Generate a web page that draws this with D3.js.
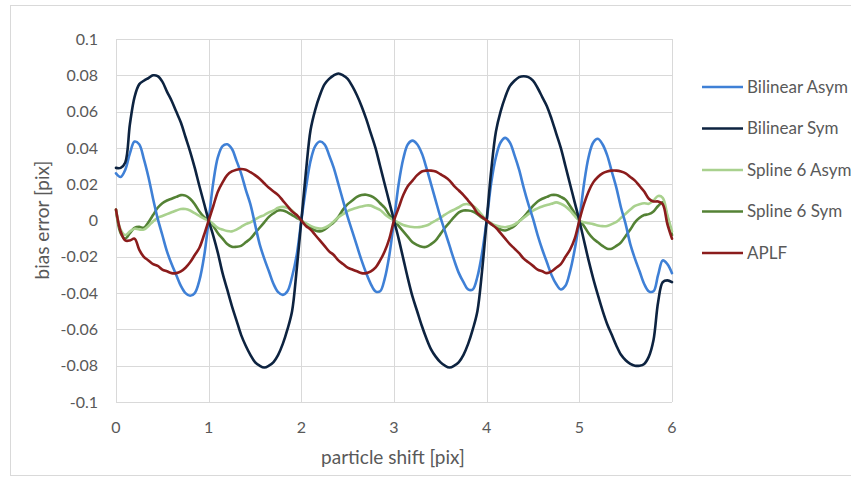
<!doctype html>
<html>
    <head>
        <meta charset="utf-8">
        <title>bias error vs particle shift</title>
        <script src="https://d3js.org/d3.v7.min.js"></script>
        <style type="text/css">
            body { margin: 0; background: #fff; }
            text { font-family: Lato, "Open Sans", sans-serif; fill: #595959; }
            .grid line { stroke: #d9d9d9; stroke-width: 1; }
        </style>
    </head>
    <body>
        <script>
        // sample positions, particle shift [pix], step 0.05
        var shift = d3.range(121).map(function(i) { return +(i * 0.05).toFixed(2); });

        var bilinearAsym = [
            0.026, 0.024, 0.028, 0.037, 0.0435, 0.042, 0.034, 0.024, 0.012, 0.001,
            -0.008, -0.017, -0.024, -0.030, -0.036, -0.040, -0.0415, -0.040, -0.033, -0.020,
            0.000, 0.021, 0.035, 0.041, 0.042, 0.0395, 0.033, 0.026, 0.017, 0.009,
            -0.002, -0.013, -0.021, -0.028, -0.035, -0.0395, -0.041, -0.039, -0.031, -0.019,
            0.000, 0.018, 0.033, 0.041, 0.0435, 0.042, 0.036, 0.029, 0.020, 0.011,
            0.002, -0.006, -0.014, -0.022, -0.029, -0.035, -0.039, -0.039, -0.032, -0.019,
            0.000, 0.020, 0.034, 0.042, 0.044, 0.042, 0.037, 0.029, 0.020, 0.011,
            0.002, -0.006, -0.014, -0.022, -0.029, -0.034, -0.038, -0.038, -0.031, -0.018,
            0.000, 0.021, 0.035, 0.043, 0.0455, 0.043, 0.036, 0.028, 0.018, 0.009,
            0.001, -0.008, -0.016, -0.023, -0.030, -0.035, -0.038, -0.036, -0.028, -0.016,
            0.000, 0.020, 0.035, 0.043, 0.045, 0.042, 0.036, 0.027, 0.018, 0.007,
            -0.002, -0.013, -0.021, -0.028, -0.035, -0.039, -0.039, -0.030, -0.022, -0.024,
            -0.029];

        var bilinearSym = [
            0.029, 0.029, 0.032, 0.053, 0.068, 0.075, 0.077, 0.0785, 0.080, 0.0795,
            0.0765, 0.071, 0.066, 0.060, 0.054, 0.046, 0.038, 0.029, 0.019, 0.0095,
            0.000, -0.0085, -0.018, -0.029, -0.038, -0.047, -0.055, -0.063, -0.069, -0.074,
            -0.078, -0.080, -0.081, -0.080, -0.078, -0.074, -0.068, -0.060, -0.050, -0.027,
            0.000, 0.027, 0.050, 0.061, 0.069, 0.075, 0.078, 0.080, 0.081, 0.080,
            0.078, 0.074, 0.069, 0.063, 0.056, 0.048, 0.040, 0.030, 0.020, 0.010,
            0.000, -0.010, -0.021, -0.032, -0.042, -0.050, -0.058, -0.065, -0.071, -0.075,
            -0.078, -0.080, -0.081, -0.080, -0.078, -0.074, -0.068, -0.060, -0.050, -0.028,
            0.000, 0.028, 0.049, 0.060, 0.068, 0.074, 0.077, 0.079, 0.0795, 0.079,
            0.077, 0.073, 0.068, 0.063, 0.056, 0.048, 0.040, 0.030, 0.020, 0.010,
            0.000, -0.011, -0.022, -0.032, -0.041, -0.0495, -0.057, -0.063, -0.069, -0.074,
            -0.077, -0.079, -0.080, -0.080, -0.079, -0.075, -0.066, -0.045, -0.034, -0.033,
            -0.034];

        var spline6Asym = [
            0.006, -0.005, -0.008, -0.006, -0.0045, -0.005, -0.005, -0.003, -0.0005, 0.0015,
            0.0025, 0.0035, 0.0045, 0.0055, 0.0063, 0.0063, 0.0055, 0.004, 0.0025, 0.001,
            0.000, -0.002, -0.004, -0.005, -0.0058, -0.006, -0.005, -0.0035, -0.002, -0.001,
            0.0005, 0.002, 0.003, 0.0045, 0.0055, 0.007, 0.0075, 0.007, 0.0055, 0.003,
            0.000, -0.0015, -0.003, -0.004, -0.0045, -0.004, -0.0027, -0.0005, 0.0018, 0.0035,
            0.0052, 0.0062, 0.007, 0.0077, 0.0083, 0.0082, 0.007, 0.0058, 0.0035, 0.0015,
            0.000, -0.0012, -0.0025, -0.0032, -0.0036, -0.0037, -0.0034, -0.0028, -0.0015, 0.000,
            0.0015, 0.0032, 0.0048, 0.006, 0.0073, 0.0088, 0.009, 0.008, 0.006, 0.003,
            0.000, -0.0015, -0.0028, -0.0034, -0.0037, -0.0032, -0.0022, -0.0005, 0.0015, 0.0035,
            0.0055, 0.0067, 0.0077, 0.0085, 0.0092, 0.010, 0.0092, 0.0078, 0.0055, 0.0025,
            0.000, -0.001, -0.0015, -0.002, -0.0027, -0.0031, -0.003, -0.002, -0.0008, 0.0015,
            0.0037, 0.006, 0.008, 0.009, 0.0095, 0.0092, 0.011, 0.0135, 0.0125, 0.003,
            -0.006];

        var spline6Sym = [
            0.006, -0.007, -0.010, -0.007, -0.004, -0.0035, -0.004, -0.001, 0.003, 0.007,
            0.0095, 0.011, 0.012, 0.013, 0.014, 0.0137, 0.012, 0.009, 0.005, 0.002,
            0.000, -0.003, -0.007, -0.010, -0.013, -0.0145, -0.0145, -0.014, -0.012, -0.010,
            -0.007, -0.004, -0.001, 0.002, 0.004, 0.0055, 0.0055, 0.0045, 0.003, 0.0015,
            0.000, -0.002, -0.004, -0.0055, -0.006, -0.005, -0.003, -0.001, 0.002, 0.006,
            0.009, 0.011, 0.013, 0.014, 0.0142, 0.0135, 0.012, 0.0095, 0.007, 0.003,
            0.000, -0.003, -0.006, -0.009, -0.012, -0.0135, -0.0145, -0.0145, -0.013, -0.011,
            -0.0075, -0.004, -0.001, 0.002, 0.0045, 0.0055, 0.0055, 0.005, 0.0035, 0.0015,
            0.000, -0.002, -0.0037, -0.005, -0.0055, -0.0045, -0.003, -0.0005, 0.002, 0.005,
            0.008, 0.0105, 0.012, 0.013, 0.014, 0.014, 0.013, 0.0115, 0.008, 0.004,
            0.000, -0.003, -0.007, -0.010, -0.012, -0.014, -0.0155, -0.0155, -0.014, -0.012,
            -0.0085, -0.005, -0.001, 0.0015, 0.003, 0.0035, 0.005, 0.008, 0.010, 0.002,
            -0.008];

        var aplf = [
            0.006, -0.006, -0.011, -0.011, -0.010, -0.016, -0.020, -0.022, -0.024, -0.025,
            -0.027, -0.028, -0.029, -0.029, -0.028, -0.026, -0.023, -0.019, -0.015, -0.008,
            0.000, 0.008, 0.016, 0.021, 0.025, 0.027, 0.028, 0.0284, 0.028, 0.0266,
            0.025, 0.023, 0.0205, 0.018, 0.016, 0.014, 0.011, 0.008, 0.005, 0.003,
            0.000, -0.003, -0.005, -0.008, -0.011, -0.014, -0.017, -0.019, -0.022, -0.024,
            -0.026, -0.027, -0.028, -0.029, -0.029, -0.028, -0.026, -0.022, -0.017, -0.010,
            0.000, 0.007, 0.014, 0.019, 0.022, 0.025, 0.027, 0.0275, 0.0275, 0.027,
            0.0255, 0.024, 0.022, 0.019, 0.0165, 0.014, 0.011, 0.008, 0.004, 0.002,
            0.000, -0.002, -0.004, -0.007, -0.010, -0.013, -0.0155, -0.018, -0.021, -0.023,
            -0.025, -0.027, -0.028, -0.029, -0.028, -0.026, -0.024, -0.020, -0.016, -0.010,
            0.000, 0.009, 0.016, 0.021, 0.024, 0.026, 0.027, 0.0275, 0.0275, 0.027,
            0.026, 0.024, 0.022, 0.019, 0.016, 0.012, 0.0105, 0.0105, 0.009, -0.002,
            -0.010];

        var seriesNames = ["Bilinear Asym", "Bilinear Sym", "Spline 6 Asym", "Spline 6 Sym", "APLF"];
        var seriesValues = [bilinearAsym, bilinearSym, spline6Asym, spline6Sym, aplf];
        var seriesColors = ["#3f80d6", "#0d2340", "#a9d18e", "#548235", "#8b1c1c"];
        // drawing order (front-most last), as in the original
        var drawOrder = [3, 2, 0, 1, 4];

        var xTicks = [0, 1, 2, 3, 4, 5, 6];
        var yTicks = [-0.1, -0.08, -0.06, -0.04, -0.02, 0, 0.02, 0.04, 0.06, 0.08, 0.1];

        var width = 851, height = 477;
        var svg = d3.select("body").append("svg").attr("width", width).attr("height", height);

        svg.append("rect")
            .attr("x", 10.5).attr("y", 5.5)
            .attr("width", 850).attr("height", 470)
            .attr("fill", "#fff").attr("stroke", "#d9d9d9");

        var x = d3.scaleLinear().domain([0, 6]).range([116, 672]);
        var y = d3.scaleLinear().domain([-0.1, 0.1]).range([402, 39]);

        var grid = svg.append("g").attr("class", "grid");
        grid.selectAll("line.h").data(yTicks).enter().append("line")
            .attr("class", "h")
            .attr("x1", x(0)).attr("x2", x(6))
            .attr("y1", function(d) { return Math.round(y(d)) + 0.5; })
            .attr("y2", function(d) { return Math.round(y(d)) + 0.5; });
        grid.selectAll("line.v").data(xTicks).enter().append("line")
            .attr("class", "v")
            .attr("y1", y(0.1)).attr("y2", y(-0.1))
            .attr("x1", function(d) { return Math.round(x(d)) + 0.5; })
            .attr("x2", function(d) { return Math.round(x(d)) + 0.5; });

        // Excel style labels: plain hyphen for negatives
        var fmt = function(d) { return String(+d.toFixed(2)); };

        svg.append("g").selectAll("text").data(yTicks).enter().append("text")
            .attr("x", 98)
            .attr("y", function(d) { return y(d); })
            .attr("dy", "0.35em")
            .attr("text-anchor", "end")
            .attr("font-size", 16)
            .text(fmt);

        svg.append("g").selectAll("text").data(xTicks).enter().append("text")
            .attr("x", function(d) { return x(d); })
            .attr("y", 427)
            .attr("dy", "0.35em")
            .attr("text-anchor", "middle")
            .attr("font-size", 16)
            .text(function(d) { return d; });

        svg.append("text")
            .attr("x", 393).attr("y", 457)
            .attr("dy", "0.35em")
            .attr("text-anchor", "middle")
            .attr("font-size", 19)
            .text("particle shift [pix]");

        svg.append("text")
            .attr("transform", "translate(42,220) rotate(-90)")
            .attr("dy", "0.35em")
            .attr("text-anchor", "middle")
            .attr("font-size", 19)
            .text("bias error [pix]");

        var line = d3.line()
            .x(function(d, i) { return x(shift[i]); })
            .y(function(d) { return y(d); })
            .curve(d3.curveCatmullRom.alpha(0.5));

        var plot = svg.append("g");
        drawOrder.forEach(function(k) {
            plot.append("path")
                .attr("d", line(seriesValues[k]))
                .attr("fill", "none")
                .attr("stroke", seriesColors[k])
                .attr("stroke-width", 2.6)
                .attr("stroke-linejoin", "round")
                .attr("stroke-linecap", "round");
        });

        var legend = svg.append("g");
        var rows = legend.selectAll("g").data(seriesNames).enter().append("g")
            .attr("transform", function(d, i) { return "translate(0," + (87 + i * 41.5) + ")"; });
        rows.append("line")
            .attr("x1", 702).attr("x2", 743)
            .attr("stroke", function(d, i) { return seriesColors[i]; })
            .attr("stroke-width", 2.6);
        rows.append("text")
            .attr("x", 747)
            .attr("dy", "0.35em")
            .attr("font-size", 17)
            .text(function(d) { return d; });
        </script>
    </body>
</html>
